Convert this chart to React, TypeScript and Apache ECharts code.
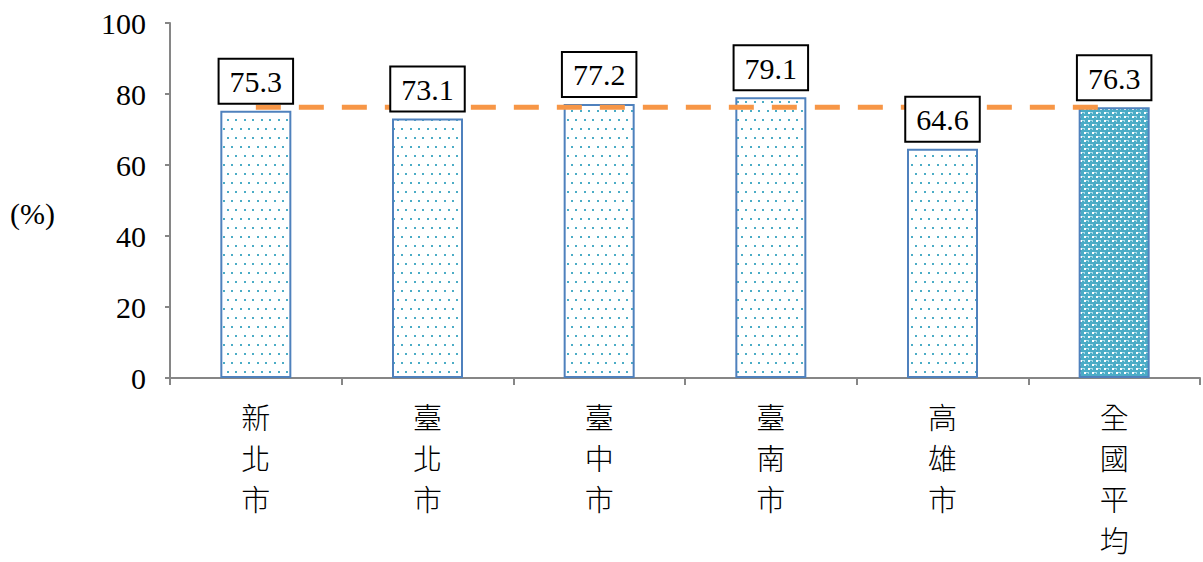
import React, { useEffect, useRef } from "react";
import * as echarts from "echarts";

const categories = ["新北市", "臺北市", "臺中市", "臺南市", "高雄市", "全國平均"];
const values = [75.3, 73.1, 77.2, 79.1, 64.6, 76.3];
const averageValue = 76.3;
const averageLine = categories.map(() => averageValue);
const yTicks = { min: 0, max: 100, interval: 20 };

function makeDotPattern() {
  const c = document.createElement("canvas");
  c.width = 17;
  c.height = 18;
  const g = c.getContext("2d")!;
  g.fillStyle = "#ffffff";
  g.fillRect(0, 0, 17, 18);
  g.fillStyle = "#4BACC6";
  g.fillRect(2, 2, 2, 2);
  g.fillRect(10, 2, 2, 2);
  g.fillRect(6, 11, 2, 2);
  g.fillRect(14, 11, 2, 2);
  return c;
}

function makeDensePattern() {
  const c = document.createElement("canvas");
  c.width = 8;
  c.height = 8;
  const g = c.getContext("2d")!;
  g.fillStyle = "#4BACC6";
  g.fillRect(0, 0, 8, 8);
  g.fillStyle = "#ffffff";
  g.fillRect(0, 0, 2, 2);
  g.fillRect(4, 4, 2, 2);
  g.fillStyle = "#a9dbe8";
  g.fillRect(2, 0, 2, 1);
  g.fillRect(6, 4, 2, 1);
  g.fillRect(0, 4, 1, 2);
  g.fillRect(4, 0, 1, 2);
  return c;
}

export default function App() {
  const ref = useRef<HTMLDivElement>(null);
  useEffect(() => {
    if (!ref.current) return;
    const chart = echarts.init(ref.current, undefined, { renderer: "svg" });
    const dot = makeDotPattern();
    const dense = makeDensePattern();
    const dotFill = { image: dot, repeat: "repeat", imageWidth: 17, imageHeight: 18 } as any;
    const denseFill = { image: dense, repeat: "repeat", imageWidth: 8, imageHeight: 8 } as any;
    const serif = "Liberation Serif, Times New Roman, serif";
    const cjk = "Noto Sans CJK TC";
    chart.setOption({
      animation: false,
      backgroundColor: "#ffffff",
      grid: {
        left: 170,
        right: 3,
        top: 23,
        bottom: 184,
        containLabel: false,
        outerBoundsMode: "none",
      },
      xAxis: {
        type: "category",
        data: categories,
        axisLine: { lineStyle: { color: "#868686", width: 2 } },
        axisTick: { show: true, length: 7, alignWithLabel: false, lineStyle: { color: "#868686", width: 2 } },
        axisLabel: {
          interval: 0,
          margin: 17,
          color: "#000",
          fontFamily: cjk,
          fontWeight: 300,
          fontSize: 29,
          lineHeight: 41,
          formatter: (v: string) => v.split("").join("\n"),
        },
      },
      yAxis: {
        type: "value",
        min: yTicks.min,
        max: yTicks.max,
        interval: yTicks.interval,
        splitLine: { show: false },
        axisLine: { show: true, lineStyle: { color: "#868686", width: 2 } },
        axisTick: { show: true, length: 5, lineStyle: { color: "#868686", width: 2 } },
        axisLabel: { margin: 24, color: "#000", fontFamily: serif, fontSize: 30 },
      },
      graphic: [
        {
          type: "text",
          left: 10,
          top: 198,
          style: { text: "(%)", fontFamily: serif, fontSize: 30, fill: "#000" },
        },
      ],
      series: [
        {
          type: "bar",
          data: values.map((v, i) => ({
            value: v,
            itemStyle: { color: i === values.length - 1 ? denseFill : dotFill },
          })),
          barWidth: 71,
          z: 2,
          itemStyle: { borderColor: "#4F81BD", borderWidth: 2 },
        },
        {
          type: "line",
          data: averageLine,
          symbol: "none",
          z: 3,
          lineStyle: { color: "#F79646", width: 5, type: [25, 18] },
        },
        {
          type: "bar",
          data: values,
          barWidth: 71,
          barGap: "-100%",
          z: 10,
          itemStyle: { color: "transparent" },
          label: {
            show: true,
            position: "top",
            distance: 8,
            color: "#000",
            fontFamily: serif,
            fontSize: 30,
            lineHeight: 32,
            backgroundColor: "#fff",
            borderColor: "#000",
            borderWidth: 2,
            padding: [6, 10, 5, 10],
          },
        },
      ],
    });
    return () => chart.dispose();
  }, []);
  return <div ref={ref} style={{ width: 1203, height: 562, position: "absolute", left: 0, top: 0 }} />;
}
